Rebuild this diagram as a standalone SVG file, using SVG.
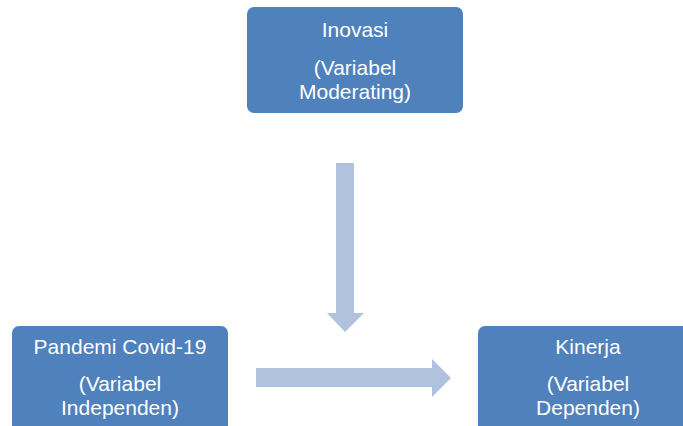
<svg xmlns="http://www.w3.org/2000/svg" width="683" height="426" viewBox="0 0 683 426">
<style>
.box{fill:#4F81BD;}
.lbl{fill:#FFFFFF;font-family:"Liberation Sans","Open Sans",sans-serif;font-size:21px;text-anchor:middle;}
.arr{fill:#B1C2DE;}
</style>
<rect width="683" height="426" fill="#FFFFFF"/>
<g id="node-inovasi">
<rect class="box" x="247" y="7" width="216" height="106" rx="7"/>
<text class="lbl" x="355" y="37">Inovasi</text>
<text class="lbl" x="355" y="75">(Variabel</text>
<text class="lbl" x="355" y="99">Moderating)</text>
</g>
<g id="node-pandemi">
<rect class="box" x="12" y="326" width="216" height="120" rx="7"/>
<text class="lbl" x="120" y="354">Pandemi Covid-19</text>
<text class="lbl" x="120" y="391">(Variabel</text>
<text class="lbl" x="120" y="415">Independen)</text>
</g>
<g id="node-kinerja">
<rect class="box" x="478" y="326" width="220" height="120" rx="7"/>
<text class="lbl" x="588" y="354">Kinerja</text>
<text class="lbl" x="588" y="391">(Variabel</text>
<text class="lbl" x="588" y="415">Dependen)</text>
</g>
<g id="connectors">
<polygon class="arr" points="336,163 354,163 354,313 364,313 345,332 327,313 336,313"/>
<polygon class="arr" points="256,368 432,368 432,359 451,378 432,397 432,387 256,387"/>
</g>
</svg>
